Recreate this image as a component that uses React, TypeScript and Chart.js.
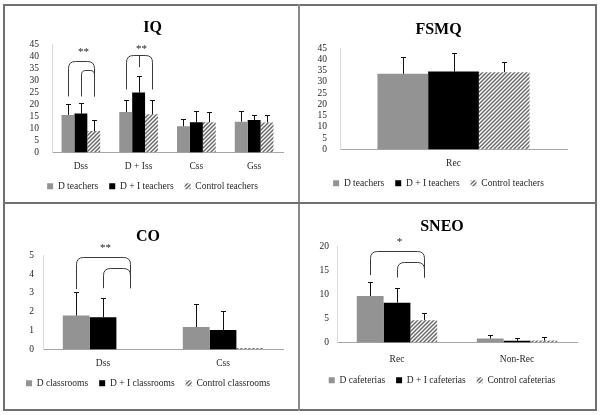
import React, { useEffect, useRef } from "react";
import { Chart, registerables } from "chart.js";

Chart.register(...registerables);

// ---------- data ----------
const teacherSeries = ["D teachers", "D + I teachers", "Control teachers"];
const classroomSeries = ["D classrooms", "D + I classrooms", "Control classrooms"];
const cafeteriaSeries = ["D cafeterias", "D + I cafeterias", "Control cafeterias"];

const iqCategories = ["Dss", "D + Iss", "Css", "Gss"];
const iqD = [15.6, 16.8, 10.9, 12.8];
const iqDI = [16.2, 24.9, 12.6, 13.5];
const iqCtrl = [8.9, 15.9, 12.6, 12.5];
const iqDErr = [4.7, 4.9, 3.0, 4.5];
const iqDIErr = [4.5, 6.9, 4.7, 2.1];
const iqCtrlErr = [4.6, 6.1, 4.3, 3.1];
const iqTicks = [0, 45, 5];

const fsmqCategories = ["Rec"];
const fsmqD = [33.6];
const fsmqDI = [34.6];
const fsmqCtrl = [34.3];
const fsmqDErr = [7.3];
const fsmqDIErr = [8.2];
const fsmqCtrlErr = [4.7];
const fsmqTicks = [0, 45, 5];

const coCategories = ["Dss", "Css"];
const coD = [1.8, 1.19];
const coDI = [1.71, 1.03];
const coCtrl = [0, 0.08];
const coDErr = [1.25, 1.23];
const coDIErr = [1.0, 1.0];
const coCtrlErr = [0, 0];
const coTicks = [0, 5, 1];

const sneoCategories = ["Rec", "Non-Rec"];
const sneoD = [9.66, 0.83];
const sneoDI = [8.28, 0.34];
const sneoCtrl = [4.62, 0.4];
const sneoDErr = [3.0, 0.83];
const sneoDIErr = [3.1, 0.55];
const sneoCtrlErr = [1.6, 0.7];
const sneoTicks = [0, 20, 5];

// significance brackets: category, legs [series index, bottom value], top value, label, label value
const iqBrackets = [
  { cat: 0, legs: [[0, 23.3], [2, 23.3]], top: 38.2, label: "**", labelAt: 42.4 },
  { cat: 0, legs: [[1, 23.3], [2, 23.3]], top: 34.2, label: "", labelAt: 0 },
  { cat: 1, legs: [[0, 26.2], [2, 26.2]], mid: [1, 35.5], top: 40.6, label: "**", labelAt: 43.9 },
];
const coBrackets = [
  { cat: 0, legs: [[0, 3.2], [2, 3.25]], top: 4.89, label: "**", labelAt: 5.5 },
  { cat: 0, legs: [[1, 3.25], [2, 3.25]], top: 4.3, label: "", labelAt: 0 },
];
const sneoBrackets = [
  { cat: 0, legs: [[0, 14], [2, 13.5]], top: 18.96, label: "*", labelAt: 21.3 },
  { cat: 0, legs: [[1, 13.5], [2, 13.5]], top: 16.7, label: "", labelAt: 0 },
];

// ---------- styling ----------
const SERIF = "'Liberation Serif', 'Times New Roman', serif";
const GREY = "#939393";
const BLACK = "#000000";
const TEXT = "#262626";

function makeHatch(): CanvasPattern | string {
  const c = document.createElement("canvas");
  c.width = 4;
  c.height = 4;
  const g = c.getContext("2d");
  if (!g) return "#aaaaaa";
  g.fillStyle = "#ffffff";
  g.fillRect(0, 0, 4, 4);
  g.strokeStyle = "#6a6a6a";
  g.lineWidth = 1.5;
  g.beginPath();
  g.moveTo(-1, 5);
  g.lineTo(5, -1);
  g.moveTo(-1, 1);
  g.lineTo(1, -1);
  g.moveTo(3, 5);
  g.lineTo(5, 3);
  g.stroke();
  const p = g.createPattern(c, "repeat");
  return p || "#aaaaaa";
}

const errorBarPlugin = {
  id: "errorBars",
  afterDatasetsDraw(chart: any) {
    const ctx = chart.ctx;
    const y = chart.scales.y;
    ctx.save();
    ctx.strokeStyle = "#111";
    ctx.lineWidth = 1;
    chart.data.datasets.forEach((ds: any, di: number) => {
      const meta = chart.getDatasetMeta(di);
      meta.data.forEach((bar: any, i: number) => {
        const e = ds.errors ? ds.errors[i] : 0;
        if (!e) return;
        const v = ds.data[i];
        const x = Math.round(bar.x) + 0.5;
        const y0 = y.getPixelForValue(v);
        const y1 = Math.round(y.getPixelForValue(v + e)) + 0.5;
        ctx.beginPath();
        ctx.moveTo(x, y0);
        ctx.lineTo(x, y1);
        ctx.moveTo(x - 2.5, y1);
        ctx.lineTo(x + 2.5, y1);
        ctx.stroke();
      });
    });
    ctx.restore();
  },
};

const bracketPlugin = {
  id: "brackets",
  afterDatasetsDraw(chart: any, _args: any, opts: any) {
    const list = opts && opts.items;
    if (!list) return;
    const ctx = chart.ctx;
    const y = chart.scales.y;
    const bx = (s: number, cat: number) => chart.getDatasetMeta(s).data[cat].x;
    ctx.save();
    ctx.strokeStyle = "#3a3a3a";
    ctx.lineWidth = 1;
    list.forEach((b: any) => {
      const xl = Math.round(bx(b.legs[0][0], b.cat)) + 0.5;
      const xr = Math.round(bx(b.legs[1][0], b.cat)) + 0.5;
      const yt = Math.round(y.getPixelForValue(b.top)) + 0.5;
      const yl = y.getPixelForValue(b.legs[0][1]);
      const yr = y.getPixelForValue(b.legs[1][1]);
      const r = Math.min(7, (xr - xl) / 3);
      ctx.beginPath();
      ctx.moveTo(xl, yl);
      ctx.lineTo(xl, yt + r);
      ctx.quadraticCurveTo(xl, yt, xl + r, yt);
      ctx.lineTo(xr - r, yt);
      ctx.quadraticCurveTo(xr, yt, xr, yt + r);
      ctx.lineTo(xr, yr);
      if (b.mid) {
        const xm = Math.round(bx(b.mid[0], b.cat)) + 0.5;
        ctx.moveTo(xm, yt);
        ctx.lineTo(xm, y.getPixelForValue(b.mid[1]));
      }
      ctx.stroke();
      if (b.label) {
        ctx.fillStyle = "#222";
        ctx.font = `11px ${SERIF}`;
        ctx.textAlign = "center";
        ctx.textBaseline = "middle";
        ctx.fillText(b.label, (xl + xr) / 2 + 2, y.getPixelForValue(b.labelAt) + 2);
      }
    });
    ctx.restore();
  },
};

type PanelProps = {
  left: number;
  top: number;
  width: number;
  height: number;
  title: string;
  categories: string[];
  names: string[];
  values: number[][];
  errors: number[][];
  ticks: number[];
  brackets?: any[];
  lay: { padL: number; padR: number; padB: number; titleTop: number; titleBottom: number; yW: number; yPad: number; xH: number; xPad: number };
};

function Panel(p: PanelProps) {
  const ref = useRef<HTMLCanvasElement | null>(null);
  useEffect(() => {
    if (!ref.current) return;
    const hatch = makeHatch();
    const fills = [GREY, BLACK, hatch];
    const chart = new Chart(ref.current, {
      type: "bar",
      data: {
        labels: p.categories,
        datasets: p.names.map((n, i) => ({
          label: n,
          data: p.values[i],
          errors: p.errors[i],
          backgroundColor: fills[i],
          borderWidth: 0,
          categoryPercentage: 0.67,
          barPercentage: 1,
        })) as any,
      },
      options: {
        animation: false,
        responsive: false,
        maintainAspectRatio: false,
        events: [],
        layout: { padding: { left: p.lay.padL, right: p.lay.padR, top: 0, bottom: p.lay.padB } },
        plugins: {
          tooltip: { enabled: false },
          title: {
            display: true,
            text: p.title,
            color: "#000",
            font: { family: SERIF, size: 16, weight: "bold" },
            padding: { top: p.lay.titleTop, bottom: p.lay.titleBottom },
          },
          legend: {
            display: true,
            position: "bottom",
            labels: {
              color: TEXT,
              font: { family: SERIF, size: 9.5 },
              boxWidth: 6,
              boxHeight: 6,
              padding: 11,
            },
          },
          brackets: { items: p.brackets || [] },
        } as any,
        scales: {
          x: {
            grid: { display: false, drawTicks: false },
            border: { display: true, color: "#a6a6a6", width: 1 },
            ticks: { color: TEXT, font: { family: SERIF, size: 9.5 }, padding: p.lay.xPad },
            afterFit: (s: any) => {
              s.height = p.lay.xH;
            },
          },
          y: {
            min: p.ticks[0],
            max: p.ticks[1],
            grid: { display: false, drawTicks: false },
            border: { display: true, color: "#d9d9d9", width: 1 },
            ticks: {
              stepSize: p.ticks[2],
              autoSkip: false,
              color: TEXT,
              font: { family: SERIF, size: 9.5 },
              padding: p.lay.yPad,
            },
            afterFit: (s: any) => {
              s.width = p.lay.yW;
            },
          },
        },
      },
      plugins: [errorBarPlugin, bracketPlugin],
    });
    return () => chart.destroy();
  }, []);
  return (
    <canvas
      ref={ref}
      width={p.width}
      height={p.height}
      style={{ position: "absolute", left: p.left, top: p.top, width: p.width, height: p.height }}
    />
  );
}

const line = (l: number, t: number, w: number, h: number, c = "#707070") => (
  <div style={{ position: "absolute", left: l, top: t, width: w, height: h, background: c }} />
);

export default function App() {
  return (
    <div style={{ position: "absolute", left: 0, top: 0, width: 601, height: 415, background: "#fff", overflow: "hidden" }}>
      <Panel
        left={5} top={6} width={293} height={196}
        title="IQ"
        categories={iqCategories}
        names={teacherSeries}
        values={[iqD, iqDI, iqCtrl]}
        errors={[iqDErr, iqDIErr, iqCtrlErr]}
        ticks={iqTicks}
        brackets={iqBrackets}
        lay={{ padL: 17, padR: 15, padB: 1, titleTop: 12, titleBottom: 7, yW: 30, yPad: 13, xH: 18, xPad: 8 }}
      />
      <Panel
        left={301} top={6} width={294} height={196}
        title="FSMQ"
        categories={fsmqCategories}
        names={teacherSeries}
        values={[fsmqD, fsmqDI, fsmqCtrl]}
        errors={[fsmqDErr, fsmqDIErr, fsmqCtrlErr]}
        ticks={fsmqTicks}
        lay={{ padL: 9, padR: 28, padB: 4, titleTop: 14, titleBottom: 9, yW: 30, yPad: 13, xH: 18, xPad: 8 }}
      />
      <Panel
        left={5} top={205} width={293} height={204}
        title="CO"
        categories={coCategories}
        names={classroomSeries}
        values={[coD, coDI, coCtrl]}
        errors={[coDErr, coDIErr, coCtrlErr]}
        ticks={coTicks}
        brackets={coBrackets}
        lay={{ padL: 8, padR: 15, padB: 11, titleTop: 22, titleBottom: 9, yW: 30, yPad: 9, xH: 18, xPad: 8 }}
      />
      <Panel
        left={301} top={205} width={294} height={204}
        title="SNEO"
        categories={sneoCategories}
        names={cafeteriaSeries}
        values={[sneoD, sneoDI, sneoCtrl]}
        errors={[sneoDErr, sneoDIErr, sneoCtrlErr]}
        ticks={sneoTicks}
        brackets={sneoBrackets}
        lay={{ padL: 6, padR: 18, padB: 14, titleTop: 12, titleBottom: 10, yW: 30, yPad: 8, xH: 22, xPad: 11 }}
      />
      {line(3, 4, 594, 2)}
      {line(3, 409, 594, 2)}
      {line(3, 4, 2, 407)}
      {line(595, 4, 2, 407)}
      {line(298, 4, 2, 407, "#8a8a8a")}
      {line(3, 202, 594, 2)}
    </div>
  );
}
